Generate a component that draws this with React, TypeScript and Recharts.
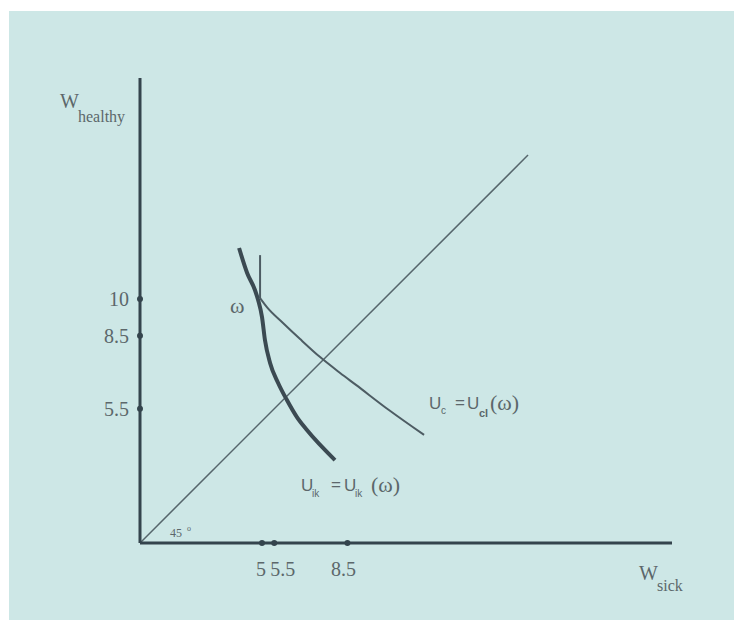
import { ComposedChart, Line, XAxis, YAxis } from "recharts";

// axis ticks (labelled values)
const xTicks = [5, 5.5, 8.5];
const yTicks = [5.5, 8.5, 10];

// 45 degree line
const diagonal = [
  { x: 0, y: 0 },
  { x: 15.9, y: 15.9 },
];

// thick indifference curve U_ik
const ikCurve = [
  { x: 4.06, y: 12.09 },
  { x: 4.39, y: 11.07 },
  { x: 4.71, y: 10.37 },
  { x: 4.84, y: 9.96 },
  { x: 5.0, y: 9.26 },
  { x: 5.12, y: 8.32 },
  { x: 5.33, y: 7.38 },
  { x: 5.66, y: 6.56 },
  { x: 6.02, y: 5.86 },
  { x: 6.43, y: 5.16 },
  { x: 6.84, y: 4.63 },
  { x: 7.99, y: 3.4 },
];

// thin curve U_c: vertical part above omega, then the curve
const cVertical = [
  { x: 4.92, y: 11.8 },
  { x: 4.92, y: 10.04 },
];
const cCurve = [
  { x: 4.92, y: 10.04 },
  { x: 5.2, y: 9.67 },
  { x: 5.86, y: 9.02 },
  { x: 6.56, y: 8.36 },
  { x: 7.38, y: 7.62 },
  { x: 8.2, y: 6.97 },
  { x: 8.85, y: 6.48 },
  { x: 10.2, y: 5.45 },
  { x: 11.64, y: 4.43 },
];

const AXIS = "#34444d";
const TEXT = "#5c676b";
const SERIF = "'Liberation Serif', 'DejaVu Serif', serif";
const SANS = "'Liberation Sans', Arial, sans-serif";

function XTick({ x, y, payload, index }: any) {
  // the first two ticks sit close together, so their labels lean apart
  const anchor = index === 0 ? "end" : index === 1 ? "start" : "middle";
  const dx = index === 0 ? 4 : index === 1 ? -4 : -4;
  return (
    <g>
      <circle cx={x} cy={y} r={3} fill={AXIS} />
      <text x={x + dx} y={y + 33} textAnchor={anchor} fontFamily={SERIF} fontSize={20} fill={TEXT}>
        {payload.value}
      </text>
    </g>
  );
}

function YTick({ x, y, payload }: any) {
  return (
    <g>
      <circle cx={x} cy={y} r={3} fill={AXIS} />
      <text x={x - 11} y={y + 7} textAnchor="end" fontFamily={SERIF} fontSize={20} fill={TEXT}>
        {payload.value}
      </text>
    </g>
  );
}

export default function App() {
  return (
    <div style={{ position: "fixed", left: 0, top: 0, width: 734, height: 620, background: "#ffffff" }}>
      <div style={{ position: "absolute", left: 9, top: 11, right: 0, bottom: 0, background: "#cde7e6" }} />
      <div style={{ position: "absolute", left: 0, top: 0 }}>
        <ComposedChart width={734} height={620} margin={{ top: 78, right: 62, bottom: 47, left: 80 }}>
          <XAxis
            type="number"
            dataKey="x"
            domain={[0, 21.8]}
            ticks={xTicks}
            allowDataOverflow
            height={30}
            axisLine={{ stroke: AXIS, strokeWidth: 3 }}
            tickLine={false}
            tickSize={0}
            tickMargin={0}
            tick={<XTick />}
            interval={0}
          />
          <YAxis
            type="number"
            dataKey="y"
            domain={[0, 19.06]}
            ticks={yTicks}
            allowDataOverflow
            width={60}
            axisLine={{ stroke: AXIS, strokeWidth: 3 }}
            tickLine={false}
            tickSize={0}
            tickMargin={0}
            tick={<YTick />}
            interval={0}
          />
          <Line data={diagonal} dataKey="y" type="linear" stroke="#56666c" strokeWidth={1.5} dot={false} isAnimationActive={false} />
          <Line data={cVertical} dataKey="y" type="linear" stroke="#4d5c63" strokeWidth={2} dot={false} isAnimationActive={false} />
          <Line data={cCurve} dataKey="y" type="monotone" stroke="#4d5c63" strokeWidth={2} dot={false} isAnimationActive={false} />
          <Line data={ikCurve} dataKey="y" type="monotone" stroke="#3b4a52" strokeWidth={4} dot={false} isAnimationActive={false} />
        </ComposedChart>
      </div>
      <svg width={734} height={620} style={{ position: "absolute", left: 0, top: 0, pointerEvents: "none" }}>
        <g fill={TEXT}>
          <text x={60} y={108} fontFamily={SERIF} fontSize={20}>W</text>
          <text x={78} y={122} fontFamily={SERIF} fontSize={16}>healthy</text>
          <text x={639} y={580} fontFamily={SERIF} fontSize={20}>W</text>
          <text x={657} y={591} fontFamily={SERIF} fontSize={16}>sick</text>
          <text x={230} y={313} fontFamily={SERIF} fontSize={22}>ω</text>
          <text x={170} y={537} fontFamily={SERIF} fontSize={12}>45</text>
          <text x={187} y={531} fontFamily={SERIF} fontSize={8}>o</text>

          <text x={429} y={409} fontFamily={SANS} fontSize={17}>U</text>
          <text x={441} y={414} fontFamily={SANS} fontSize={10}>c</text>
          <text x={455} y={408} fontFamily={SANS} fontSize={17}>=</text>
          <text x={467} y={409} fontFamily={SANS} fontSize={17}>U</text>
          <text x={479} y={417} fontFamily={SANS} fontSize={11} fontWeight="bold">cl</text>
          <text x={490} y={410} fontFamily={SERIF} fontSize={22}>(ω)</text>

          <text x={301} y={491} fontFamily={SANS} fontSize={17}>U</text>
          <text x={312} y={497} fontFamily={SANS} fontSize={10}>ik</text>
          <text x={331} y={490} fontFamily={SANS} fontSize={17}>=</text>
          <text x={344} y={491} fontFamily={SANS} fontSize={17}>U</text>
          <text x={355} y={497} fontFamily={SANS} fontSize={10}>ik</text>
          <text x={371} y={492} fontFamily={SERIF} fontSize={22}>(ω)</text>
        </g>
      </svg>
    </div>
  );
}
